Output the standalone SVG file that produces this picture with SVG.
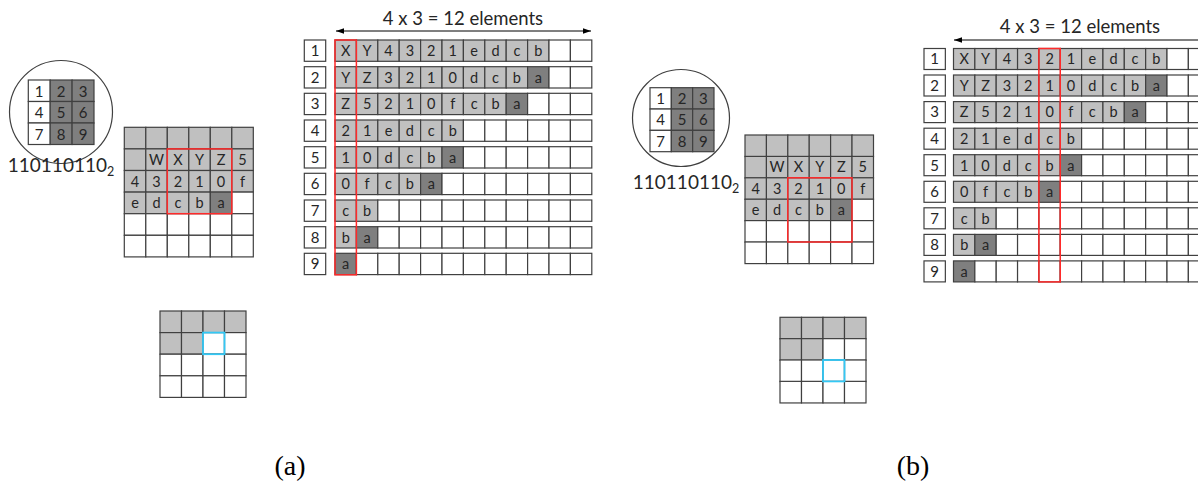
<svg xmlns="http://www.w3.org/2000/svg" xmlns:xlink="http://www.w3.org/1999/xlink" width="1198" height="485" viewBox="0 0 1198 485">
<style>
.w{fill:#fff;stroke:#404040;stroke-width:1.2}
.g{fill:#c0c0c0;stroke:#404040;stroke-width:1.2}
.d{fill:#7f7f7f;stroke:#404040;stroke-width:1.2}
.t{font-family:Lato,"Open Sans",sans-serif;font-size:14.5px;fill:#262626;text-anchor:middle}
.n{font-family:Lato,"Open Sans",sans-serif;font-size:15px;fill:#262626;text-anchor:middle}
.big{font-family:Lato,"Open Sans",sans-serif;font-size:18.5px;fill:#262626;text-anchor:middle}
.bin{font-family:Lato,"Open Sans",sans-serif;font-size:19px;fill:#262626;text-anchor:middle}
.cap{font-family:"Liberation Serif","Times New Roman",serif;font-size:28px;fill:#000;text-anchor:middle}
.red{fill:none;stroke:#ff2a2a;stroke-width:1.5}
.cy{fill:none;stroke:#33c8f5;stroke-width:1.8}
.circ{fill:#fff;stroke:#404040;stroke-width:1.2}
.ar{stroke:#000;stroke-width:1;fill:none}
</style>
<defs>
<rect id="ca" width="21.4" height="21.3"/>
<rect id="cb" width="21.35" height="21"/>
<rect id="cm" width="21.5" height="21.6"/>
<rect id="cs" width="21.5" height="21.6"/>
<rect id="cc" width="21.9" height="21.5"/>
<rect id="cd" width="21.33" height="21.33"/>
<marker id="ah" viewBox="0 0 10 10" refX="10" refY="5" markerWidth="8" markerHeight="8" orient="auto-start-reverse" markerUnits="userSpaceOnUse"><path d="M0,1.5 L10,5 L0,8.5 z" fill="#000"/></marker>
</defs>

<!-- ===== Panel (a) ===== -->
<g id="a-circle">
<circle class="circ" cx="61" cy="112" r="51.5"/>
<use href="#cc" x="28.3" y="80" class="w"/><use href="#cc" x="50.2" y="80" class="d"/><use href="#cc" x="72.1" y="80" class="d"/>
<use href="#cc" x="28.3" y="101.5" class="w"/><use href="#cc" x="50.2" y="101.5" class="d"/><use href="#cc" x="72.1" y="101.5" class="d"/>
<use href="#cc" x="28.3" y="123" class="w"/><use href="#cc" x="50.2" y="123" class="d"/><use href="#cc" x="72.1" y="123" class="d"/>
<text class="n" x="39.2" y="96.5">1</text><text class="n" x="61.1" y="96.5">2</text><text class="n" x="83" y="96.5">3</text>
<text class="n" x="39.2" y="118">4</text><text class="n" x="61.1" y="118">5</text><text class="n" x="83" y="118">6</text>
<text class="n" x="39.2" y="139.5">7</text><text class="n" x="61.1" y="139.5">8</text><text class="n" x="83" y="139.5">9</text>
</g>
<g id="a-binary"><text class="bin" x="61" y="172">110110110<tspan font-size="12.5" dy="4">2</tspan></text></g>

<g id="a-grid">
<use href="#cm" x="124.3" y="127.3" class="g"/><use href="#cm" x="145.8" y="127.3" class="g"/><use href="#cm" x="167.3" y="127.3" class="g"/><use href="#cm" x="188.8" y="127.3" class="g"/><use href="#cm" x="210.3" y="127.3" class="g"/><use href="#cm" x="231.8" y="127.3" class="g"/>
<use href="#cm" x="124.3" y="148.9" class="g"/><use href="#cm" x="145.8" y="148.9" class="g"/><use href="#cm" x="167.3" y="148.9" class="g"/><use href="#cm" x="188.8" y="148.9" class="g"/><use href="#cm" x="210.3" y="148.9" class="g"/><use href="#cm" x="231.8" y="148.9" class="g"/>
<use href="#cm" x="124.3" y="170.5" class="g"/><use href="#cm" x="145.8" y="170.5" class="g"/><use href="#cm" x="167.3" y="170.5" class="g"/><use href="#cm" x="188.8" y="170.5" class="g"/><use href="#cm" x="210.3" y="170.5" class="g"/><use href="#cm" x="231.8" y="170.5" class="g"/>
<use href="#cm" x="124.3" y="192.1" class="g"/><use href="#cm" x="145.8" y="192.1" class="g"/><use href="#cm" x="167.3" y="192.1" class="g"/><use href="#cm" x="188.8" y="192.1" class="g"/><use href="#cm" x="210.3" y="192.1" class="d"/><use href="#cm" x="231.8" y="192.1" class="w"/>
<use href="#cm" x="124.3" y="213.7" class="w"/><use href="#cm" x="145.8" y="213.7" class="w"/><use href="#cm" x="167.3" y="213.7" class="w"/><use href="#cm" x="188.8" y="213.7" class="w"/><use href="#cm" x="210.3" y="213.7" class="w"/><use href="#cm" x="231.8" y="213.7" class="w"/>
<use href="#cm" x="124.3" y="235.3" class="w"/><use href="#cm" x="145.8" y="235.3" class="w"/><use href="#cm" x="167.3" y="235.3" class="w"/><use href="#cm" x="188.8" y="235.3" class="w"/><use href="#cm" x="210.3" y="235.3" class="w"/><use href="#cm" x="231.8" y="235.3" class="w"/>
<text class="t" x="156.5" y="164.9">W</text><text class="t" x="178" y="164.9">X</text><text class="t" x="199.5" y="164.9">Y</text><text class="t" x="221" y="164.9">Z</text><text class="t" x="242.5" y="164.9">5</text>
<text class="t" x="135" y="186.5">4</text><text class="t" x="156.5" y="186.5">3</text><text class="t" x="178" y="186.5">2</text><text class="t" x="199.5" y="186.5">1</text><text class="t" x="221" y="186.5">0</text><text class="t" x="242.5" y="186.5">f</text>
<text class="t" x="135" y="208.1">e</text><text class="t" x="156.5" y="208.1">d</text><text class="t" x="178" y="208.1">c</text><text class="t" x="199.5" y="208.1">b</text><text class="t" x="221" y="208.1">a</text>
<rect class="red" x="167.3" y="148.9" width="64.5" height="64.8"/>
</g>

<g id="a-small">
<use href="#cs" x="160" y="311" class="g"/><use href="#cs" x="181.5" y="311" class="g"/><use href="#cs" x="203" y="311" class="g"/><use href="#cs" x="224.5" y="311" class="g"/>
<use href="#cs" x="160" y="332.6" class="g"/><use href="#cs" x="181.5" y="332.6" class="g"/><use href="#cs" x="203" y="332.6" class="w"/><use href="#cs" x="224.5" y="332.6" class="w"/>
<use href="#cs" x="160" y="354.2" class="w"/><use href="#cs" x="181.5" y="354.2" class="w"/><use href="#cs" x="203" y="354.2" class="w"/><use href="#cs" x="224.5" y="354.2" class="w"/>
<use href="#cs" x="160" y="375.8" class="w"/><use href="#cs" x="181.5" y="375.8" class="w"/><use href="#cs" x="203" y="375.8" class="w"/><use href="#cs" x="224.5" y="375.8" class="w"/>
<rect class="cy" x="203" y="332.6" width="21.5" height="21.6"/>
</g>

<g id="a-list">
<text class="big" x="463" y="25">4 x 3 = 12 elements</text>
<use href="#ca" x="304.3" y="40" class="w"/><use href="#ca" x="304.3" y="66.7" class="w"/><use href="#ca" x="304.3" y="93.3" class="w"/><use href="#ca" x="304.3" y="120" class="w"/><use href="#ca" x="304.3" y="146.7" class="w"/><use href="#ca" x="304.3" y="173.3" class="w"/><use href="#ca" x="304.3" y="200" class="w"/><use href="#ca" x="304.3" y="226.7" class="w"/><use href="#ca" x="304.3" y="253.3" class="w"/>
<text class="n" x="315" y="56">1</text><text class="n" x="315" y="82.7">2</text><text class="n" x="315" y="109.3">3</text><text class="n" x="315" y="136">4</text><text class="n" x="315" y="162.7">5</text><text class="n" x="315" y="189.3">6</text><text class="n" x="315" y="216">7</text><text class="n" x="315" y="242.7">8</text><text class="n" x="315" y="269.3">9</text>
<use href="#ca" x="335" y="40" class="g"/><use href="#ca" x="356.4" y="40" class="g"/><use href="#ca" x="377.8" y="40" class="g"/><use href="#ca" x="399.2" y="40" class="g"/><use href="#ca" x="420.6" y="40" class="g"/><use href="#ca" x="442" y="40" class="g"/><use href="#ca" x="463.4" y="40" class="g"/><use href="#ca" x="484.8" y="40" class="g"/><use href="#ca" x="506.2" y="40" class="g"/><use href="#ca" x="527.6" y="40" class="g"/><use href="#ca" x="549" y="40" class="w"/><use href="#ca" x="570.4" y="40" class="w"/>
<use href="#ca" x="335" y="66.7" class="g"/><use href="#ca" x="356.4" y="66.7" class="g"/><use href="#ca" x="377.8" y="66.7" class="g"/><use href="#ca" x="399.2" y="66.7" class="g"/><use href="#ca" x="420.6" y="66.7" class="g"/><use href="#ca" x="442" y="66.7" class="g"/><use href="#ca" x="463.4" y="66.7" class="g"/><use href="#ca" x="484.8" y="66.7" class="g"/><use href="#ca" x="506.2" y="66.7" class="g"/><use href="#ca" x="527.6" y="66.7" class="d"/><use href="#ca" x="549" y="66.7" class="w"/><use href="#ca" x="570.4" y="66.7" class="w"/>
<use href="#ca" x="335" y="93.3" class="g"/><use href="#ca" x="356.4" y="93.3" class="g"/><use href="#ca" x="377.8" y="93.3" class="g"/><use href="#ca" x="399.2" y="93.3" class="g"/><use href="#ca" x="420.6" y="93.3" class="g"/><use href="#ca" x="442" y="93.3" class="g"/><use href="#ca" x="463.4" y="93.3" class="g"/><use href="#ca" x="484.8" y="93.3" class="g"/><use href="#ca" x="506.2" y="93.3" class="d"/><use href="#ca" x="527.6" y="93.3" class="w"/><use href="#ca" x="549" y="93.3" class="w"/><use href="#ca" x="570.4" y="93.3" class="w"/>
<use href="#ca" x="335" y="120" class="g"/><use href="#ca" x="356.4" y="120" class="g"/><use href="#ca" x="377.8" y="120" class="g"/><use href="#ca" x="399.2" y="120" class="g"/><use href="#ca" x="420.6" y="120" class="g"/><use href="#ca" x="442" y="120" class="g"/><use href="#ca" x="463.4" y="120" class="w"/><use href="#ca" x="484.8" y="120" class="w"/><use href="#ca" x="506.2" y="120" class="w"/><use href="#ca" x="527.6" y="120" class="w"/><use href="#ca" x="549" y="120" class="w"/><use href="#ca" x="570.4" y="120" class="w"/>
<use href="#ca" x="335" y="146.7" class="g"/><use href="#ca" x="356.4" y="146.7" class="g"/><use href="#ca" x="377.8" y="146.7" class="g"/><use href="#ca" x="399.2" y="146.7" class="g"/><use href="#ca" x="420.6" y="146.7" class="g"/><use href="#ca" x="442" y="146.7" class="d"/><use href="#ca" x="463.4" y="146.7" class="w"/><use href="#ca" x="484.8" y="146.7" class="w"/><use href="#ca" x="506.2" y="146.7" class="w"/><use href="#ca" x="527.6" y="146.7" class="w"/><use href="#ca" x="549" y="146.7" class="w"/><use href="#ca" x="570.4" y="146.7" class="w"/>
<use href="#ca" x="335" y="173.3" class="g"/><use href="#ca" x="356.4" y="173.3" class="g"/><use href="#ca" x="377.8" y="173.3" class="g"/><use href="#ca" x="399.2" y="173.3" class="g"/><use href="#ca" x="420.6" y="173.3" class="d"/><use href="#ca" x="442" y="173.3" class="w"/><use href="#ca" x="463.4" y="173.3" class="w"/><use href="#ca" x="484.8" y="173.3" class="w"/><use href="#ca" x="506.2" y="173.3" class="w"/><use href="#ca" x="527.6" y="173.3" class="w"/><use href="#ca" x="549" y="173.3" class="w"/><use href="#ca" x="570.4" y="173.3" class="w"/>
<use href="#ca" x="335" y="200" class="g"/><use href="#ca" x="356.4" y="200" class="g"/><use href="#ca" x="377.8" y="200" class="w"/><use href="#ca" x="399.2" y="200" class="w"/><use href="#ca" x="420.6" y="200" class="w"/><use href="#ca" x="442" y="200" class="w"/><use href="#ca" x="463.4" y="200" class="w"/><use href="#ca" x="484.8" y="200" class="w"/><use href="#ca" x="506.2" y="200" class="w"/><use href="#ca" x="527.6" y="200" class="w"/><use href="#ca" x="549" y="200" class="w"/><use href="#ca" x="570.4" y="200" class="w"/>
<use href="#ca" x="335" y="226.7" class="g"/><use href="#ca" x="356.4" y="226.7" class="d"/><use href="#ca" x="377.8" y="226.7" class="w"/><use href="#ca" x="399.2" y="226.7" class="w"/><use href="#ca" x="420.6" y="226.7" class="w"/><use href="#ca" x="442" y="226.7" class="w"/><use href="#ca" x="463.4" y="226.7" class="w"/><use href="#ca" x="484.8" y="226.7" class="w"/><use href="#ca" x="506.2" y="226.7" class="w"/><use href="#ca" x="527.6" y="226.7" class="w"/><use href="#ca" x="549" y="226.7" class="w"/><use href="#ca" x="570.4" y="226.7" class="w"/>
<use href="#ca" x="335" y="253.3" class="d"/><use href="#ca" x="356.4" y="253.3" class="w"/><use href="#ca" x="377.8" y="253.3" class="w"/><use href="#ca" x="399.2" y="253.3" class="w"/><use href="#ca" x="420.6" y="253.3" class="w"/><use href="#ca" x="442" y="253.3" class="w"/><use href="#ca" x="463.4" y="253.3" class="w"/><use href="#ca" x="484.8" y="253.3" class="w"/><use href="#ca" x="506.2" y="253.3" class="w"/><use href="#ca" x="527.6" y="253.3" class="w"/><use href="#ca" x="549" y="253.3" class="w"/><use href="#ca" x="570.4" y="253.3" class="w"/>
<text class="t" x="345.7" y="56">X</text><text class="t" x="367.1" y="56">Y</text><text class="t" x="388.5" y="56">4</text><text class="t" x="409.9" y="56">3</text><text class="t" x="431.3" y="56">2</text><text class="t" x="452.7" y="56">1</text><text class="t" x="474.1" y="56">e</text><text class="t" x="495.5" y="56">d</text><text class="t" x="516.9" y="56">c</text><text class="t" x="538.3" y="56">b</text>
<text class="t" x="345.7" y="82.7">Y</text><text class="t" x="367.1" y="82.7">Z</text><text class="t" x="388.5" y="82.7">3</text><text class="t" x="409.9" y="82.7">2</text><text class="t" x="431.3" y="82.7">1</text><text class="t" x="452.7" y="82.7">0</text><text class="t" x="474.1" y="82.7">d</text><text class="t" x="495.5" y="82.7">c</text><text class="t" x="516.9" y="82.7">b</text><text class="t" x="538.3" y="82.7">a</text>
<text class="t" x="345.7" y="109.3">Z</text><text class="t" x="367.1" y="109.3">5</text><text class="t" x="388.5" y="109.3">2</text><text class="t" x="409.9" y="109.3">1</text><text class="t" x="431.3" y="109.3">0</text><text class="t" x="452.7" y="109.3">f</text><text class="t" x="474.1" y="109.3">c</text><text class="t" x="495.5" y="109.3">b</text><text class="t" x="516.9" y="109.3">a</text>
<text class="t" x="345.7" y="136">2</text><text class="t" x="367.1" y="136">1</text><text class="t" x="388.5" y="136">e</text><text class="t" x="409.9" y="136">d</text><text class="t" x="431.3" y="136">c</text><text class="t" x="452.7" y="136">b</text>
<text class="t" x="345.7" y="162.7">1</text><text class="t" x="367.1" y="162.7">0</text><text class="t" x="388.5" y="162.7">d</text><text class="t" x="409.9" y="162.7">c</text><text class="t" x="431.3" y="162.7">b</text><text class="t" x="452.7" y="162.7">a</text>
<text class="t" x="345.7" y="189.3">0</text><text class="t" x="367.1" y="189.3">f</text><text class="t" x="388.5" y="189.3">c</text><text class="t" x="409.9" y="189.3">b</text><text class="t" x="431.3" y="189.3">a</text>
<text class="t" x="345.7" y="216">c</text><text class="t" x="367.1" y="216">b</text>
<text class="t" x="345.7" y="242.7">b</text><text class="t" x="367.1" y="242.7">a</text>
<text class="t" x="345.7" y="269.3">a</text>
<rect class="red" x="335" y="40" width="21.4" height="234.8"/>
</g>

<!-- ===== Panel (b) ===== -->
<g id="b-circle">
<circle class="circ" cx="681" cy="118" r="48.5"/>
<use href="#cd" x="650" y="87.7" class="w"/><use href="#cd" x="671.33" y="87.7" class="d"/><use href="#cd" x="692.66" y="87.7" class="d"/>
<use href="#cd" x="650" y="109.03" class="w"/><use href="#cd" x="671.33" y="109.03" class="d"/><use href="#cd" x="692.66" y="109.03" class="d"/>
<use href="#cd" x="650" y="130.36" class="w"/><use href="#cd" x="671.33" y="130.36" class="d"/><use href="#cd" x="692.66" y="130.36" class="d"/>
<text class="n" x="660.7" y="104">1</text><text class="n" x="682" y="104">2</text><text class="n" x="703.3" y="104">3</text>
<text class="n" x="660.7" y="125.4">4</text><text class="n" x="682" y="125.4">5</text><text class="n" x="703.3" y="125.4">6</text>
<text class="n" x="660.7" y="146.7">7</text><text class="n" x="682" y="146.7">8</text><text class="n" x="703.3" y="146.7">9</text>
</g>
<g id="b-binary"><text class="bin" x="686" y="189">110110110<tspan font-size="12.5" dy="4">2</tspan></text></g>

<g id="b-grid">
<use href="#cm" x="745" y="135" class="g"/><use href="#cm" x="766.4" y="135" class="g"/><use href="#cm" x="787.8" y="135" class="g"/><use href="#cm" x="809.2" y="135" class="g"/><use href="#cm" x="830.6" y="135" class="g"/><use href="#cm" x="852" y="135" class="g"/>
<use href="#cm" x="745" y="156.4" class="g"/><use href="#cm" x="766.4" y="156.4" class="g"/><use href="#cm" x="787.8" y="156.4" class="g"/><use href="#cm" x="809.2" y="156.4" class="g"/><use href="#cm" x="830.6" y="156.4" class="g"/><use href="#cm" x="852" y="156.4" class="g"/>
<use href="#cm" x="745" y="177.8" class="g"/><use href="#cm" x="766.4" y="177.8" class="g"/><use href="#cm" x="787.8" y="177.8" class="g"/><use href="#cm" x="809.2" y="177.8" class="g"/><use href="#cm" x="830.6" y="177.8" class="g"/><use href="#cm" x="852" y="177.8" class="g"/>
<use href="#cm" x="745" y="199.2" class="g"/><use href="#cm" x="766.4" y="199.2" class="g"/><use href="#cm" x="787.8" y="199.2" class="g"/><use href="#cm" x="809.2" y="199.2" class="g"/><use href="#cm" x="830.6" y="199.2" class="d"/><use href="#cm" x="852" y="199.2" class="w"/>
<use href="#cm" x="745" y="220.6" class="w"/><use href="#cm" x="766.4" y="220.6" class="w"/><use href="#cm" x="787.8" y="220.6" class="w"/><use href="#cm" x="809.2" y="220.6" class="w"/><use href="#cm" x="830.6" y="220.6" class="w"/><use href="#cm" x="852" y="220.6" class="w"/>
<use href="#cm" x="745" y="242" class="w"/><use href="#cm" x="766.4" y="242" class="w"/><use href="#cm" x="787.8" y="242" class="w"/><use href="#cm" x="809.2" y="242" class="w"/><use href="#cm" x="830.6" y="242" class="w"/><use href="#cm" x="852" y="242" class="w"/>
<text class="t" x="777.1" y="172.4">W</text><text class="t" x="798.5" y="172.4">X</text><text class="t" x="819.9" y="172.4">Y</text><text class="t" x="841.3" y="172.4">Z</text><text class="t" x="862.7" y="172.4">5</text>
<text class="t" x="755.7" y="193.8">4</text><text class="t" x="777.1" y="193.8">3</text><text class="t" x="798.5" y="193.8">2</text><text class="t" x="819.9" y="193.8">1</text><text class="t" x="841.3" y="193.8">0</text><text class="t" x="862.7" y="193.8">f</text>
<text class="t" x="755.7" y="215.2">e</text><text class="t" x="777.1" y="215.2">d</text><text class="t" x="798.5" y="215.2">c</text><text class="t" x="819.9" y="215.2">b</text><text class="t" x="841.3" y="215.2">a</text>
<rect class="red" x="787.8" y="177.8" width="64.2" height="64.2"/>
</g>

<g id="b-small">
<use href="#cs" x="780" y="317.3" class="g"/><use href="#cs" x="801.5" y="317.3" class="g"/><use href="#cs" x="823" y="317.3" class="g"/><use href="#cs" x="844.5" y="317.3" class="g"/>
<use href="#cs" x="780" y="338.65" class="g"/><use href="#cs" x="801.5" y="338.65" class="g"/><use href="#cs" x="823" y="338.65" class="w"/><use href="#cs" x="844.5" y="338.65" class="w"/>
<use href="#cs" x="780" y="360" class="w"/><use href="#cs" x="801.5" y="360" class="w"/><use href="#cs" x="823" y="360" class="w"/><use href="#cs" x="844.5" y="360" class="w"/>
<use href="#cs" x="780" y="381.35" class="w"/><use href="#cs" x="801.5" y="381.35" class="w"/><use href="#cs" x="823" y="381.35" class="w"/><use href="#cs" x="844.5" y="381.35" class="w"/>
<rect class="cy" x="823" y="360" width="21.5" height="21.4"/>
</g>

<g id="b-list">
<text class="big" x="1080" y="33">4 x 3 = 12 elements</text>
<use href="#cb" x="924" y="48.5" class="w"/><use href="#cb" x="924" y="75" class="w"/><use href="#cb" x="924" y="101.6" class="w"/><use href="#cb" x="924" y="128.2" class="w"/><use href="#cb" x="924" y="154.7" class="w"/><use href="#cb" x="924" y="181.3" class="w"/><use href="#cb" x="924" y="207.8" class="w"/><use href="#cb" x="924" y="234.4" class="w"/><use href="#cb" x="924" y="260.9" class="w"/>
<text class="n" x="934.7" y="64.3">1</text><text class="n" x="934.7" y="90.8">2</text><text class="n" x="934.7" y="117.4">3</text><text class="n" x="934.7" y="144">4</text><text class="n" x="934.7" y="170.5">5</text><text class="n" x="934.7" y="197.1">6</text><text class="n" x="934.7" y="223.6">7</text><text class="n" x="934.7" y="250.2">8</text><text class="n" x="934.7" y="276.7">9</text>
<use href="#cb" x="953.5" y="48.5" class="g"/><use href="#cb" x="974.85" y="48.5" class="g"/><use href="#cb" x="996.2" y="48.5" class="g"/><use href="#cb" x="1017.55" y="48.5" class="g"/><use href="#cb" x="1038.9" y="48.5" class="g"/><use href="#cb" x="1060.25" y="48.5" class="g"/><use href="#cb" x="1081.6" y="48.5" class="g"/><use href="#cb" x="1102.95" y="48.5" class="g"/><use href="#cb" x="1124.3" y="48.5" class="g"/><use href="#cb" x="1145.65" y="48.5" class="g"/><use href="#cb" x="1167" y="48.5" class="w"/><use href="#cb" x="1188.35" y="48.5" class="w"/>
<use href="#cb" x="953.5" y="75" class="g"/><use href="#cb" x="974.85" y="75" class="g"/><use href="#cb" x="996.2" y="75" class="g"/><use href="#cb" x="1017.55" y="75" class="g"/><use href="#cb" x="1038.9" y="75" class="g"/><use href="#cb" x="1060.25" y="75" class="g"/><use href="#cb" x="1081.6" y="75" class="g"/><use href="#cb" x="1102.95" y="75" class="g"/><use href="#cb" x="1124.3" y="75" class="g"/><use href="#cb" x="1145.65" y="75" class="d"/><use href="#cb" x="1167" y="75" class="w"/><use href="#cb" x="1188.35" y="75" class="w"/>
<use href="#cb" x="953.5" y="101.6" class="g"/><use href="#cb" x="974.85" y="101.6" class="g"/><use href="#cb" x="996.2" y="101.6" class="g"/><use href="#cb" x="1017.55" y="101.6" class="g"/><use href="#cb" x="1038.9" y="101.6" class="g"/><use href="#cb" x="1060.25" y="101.6" class="g"/><use href="#cb" x="1081.6" y="101.6" class="g"/><use href="#cb" x="1102.95" y="101.6" class="g"/><use href="#cb" x="1124.3" y="101.6" class="d"/><use href="#cb" x="1145.65" y="101.6" class="w"/><use href="#cb" x="1167" y="101.6" class="w"/><use href="#cb" x="1188.35" y="101.6" class="w"/>
<use href="#cb" x="953.5" y="128.2" class="g"/><use href="#cb" x="974.85" y="128.2" class="g"/><use href="#cb" x="996.2" y="128.2" class="g"/><use href="#cb" x="1017.55" y="128.2" class="g"/><use href="#cb" x="1038.9" y="128.2" class="g"/><use href="#cb" x="1060.25" y="128.2" class="g"/><use href="#cb" x="1081.6" y="128.2" class="w"/><use href="#cb" x="1102.95" y="128.2" class="w"/><use href="#cb" x="1124.3" y="128.2" class="w"/><use href="#cb" x="1145.65" y="128.2" class="w"/><use href="#cb" x="1167" y="128.2" class="w"/><use href="#cb" x="1188.35" y="128.2" class="w"/>
<use href="#cb" x="953.5" y="154.7" class="g"/><use href="#cb" x="974.85" y="154.7" class="g"/><use href="#cb" x="996.2" y="154.7" class="g"/><use href="#cb" x="1017.55" y="154.7" class="g"/><use href="#cb" x="1038.9" y="154.7" class="g"/><use href="#cb" x="1060.25" y="154.7" class="d"/><use href="#cb" x="1081.6" y="154.7" class="w"/><use href="#cb" x="1102.95" y="154.7" class="w"/><use href="#cb" x="1124.3" y="154.7" class="w"/><use href="#cb" x="1145.65" y="154.7" class="w"/><use href="#cb" x="1167" y="154.7" class="w"/><use href="#cb" x="1188.35" y="154.7" class="w"/>
<use href="#cb" x="953.5" y="181.3" class="g"/><use href="#cb" x="974.85" y="181.3" class="g"/><use href="#cb" x="996.2" y="181.3" class="g"/><use href="#cb" x="1017.55" y="181.3" class="g"/><use href="#cb" x="1038.9" y="181.3" class="d"/><use href="#cb" x="1060.25" y="181.3" class="w"/><use href="#cb" x="1081.6" y="181.3" class="w"/><use href="#cb" x="1102.95" y="181.3" class="w"/><use href="#cb" x="1124.3" y="181.3" class="w"/><use href="#cb" x="1145.65" y="181.3" class="w"/><use href="#cb" x="1167" y="181.3" class="w"/><use href="#cb" x="1188.35" y="181.3" class="w"/>
<use href="#cb" x="953.5" y="207.8" class="g"/><use href="#cb" x="974.85" y="207.8" class="g"/><use href="#cb" x="996.2" y="207.8" class="w"/><use href="#cb" x="1017.55" y="207.8" class="w"/><use href="#cb" x="1038.9" y="207.8" class="w"/><use href="#cb" x="1060.25" y="207.8" class="w"/><use href="#cb" x="1081.6" y="207.8" class="w"/><use href="#cb" x="1102.95" y="207.8" class="w"/><use href="#cb" x="1124.3" y="207.8" class="w"/><use href="#cb" x="1145.65" y="207.8" class="w"/><use href="#cb" x="1167" y="207.8" class="w"/><use href="#cb" x="1188.35" y="207.8" class="w"/>
<use href="#cb" x="953.5" y="234.4" class="g"/><use href="#cb" x="974.85" y="234.4" class="d"/><use href="#cb" x="996.2" y="234.4" class="w"/><use href="#cb" x="1017.55" y="234.4" class="w"/><use href="#cb" x="1038.9" y="234.4" class="w"/><use href="#cb" x="1060.25" y="234.4" class="w"/><use href="#cb" x="1081.6" y="234.4" class="w"/><use href="#cb" x="1102.95" y="234.4" class="w"/><use href="#cb" x="1124.3" y="234.4" class="w"/><use href="#cb" x="1145.65" y="234.4" class="w"/><use href="#cb" x="1167" y="234.4" class="w"/><use href="#cb" x="1188.35" y="234.4" class="w"/>
<use href="#cb" x="953.5" y="260.9" class="d"/><use href="#cb" x="974.85" y="260.9" class="w"/><use href="#cb" x="996.2" y="260.9" class="w"/><use href="#cb" x="1017.55" y="260.9" class="w"/><use href="#cb" x="1038.9" y="260.9" class="w"/><use href="#cb" x="1060.25" y="260.9" class="w"/><use href="#cb" x="1081.6" y="260.9" class="w"/><use href="#cb" x="1102.95" y="260.9" class="w"/><use href="#cb" x="1124.3" y="260.9" class="w"/><use href="#cb" x="1145.65" y="260.9" class="w"/><use href="#cb" x="1167" y="260.9" class="w"/><use href="#cb" x="1188.35" y="260.9" class="w"/>
<text class="t" x="964.2" y="64.3">X</text><text class="t" x="985.5" y="64.3">Y</text><text class="t" x="1006.9" y="64.3">4</text><text class="t" x="1028.2" y="64.3">3</text><text class="t" x="1049.6" y="64.3">2</text><text class="t" x="1070.9" y="64.3">1</text><text class="t" x="1092.3" y="64.3">e</text><text class="t" x="1113.6" y="64.3">d</text><text class="t" x="1135" y="64.3">c</text><text class="t" x="1156.3" y="64.3">b</text>
<text class="t" x="964.2" y="90.8">Y</text><text class="t" x="985.5" y="90.8">Z</text><text class="t" x="1006.9" y="90.8">3</text><text class="t" x="1028.2" y="90.8">2</text><text class="t" x="1049.6" y="90.8">1</text><text class="t" x="1070.9" y="90.8">0</text><text class="t" x="1092.3" y="90.8">d</text><text class="t" x="1113.6" y="90.8">c</text><text class="t" x="1135" y="90.8">b</text><text class="t" x="1156.3" y="90.8">a</text>
<text class="t" x="964.2" y="117.4">Z</text><text class="t" x="985.5" y="117.4">5</text><text class="t" x="1006.9" y="117.4">2</text><text class="t" x="1028.2" y="117.4">1</text><text class="t" x="1049.6" y="117.4">0</text><text class="t" x="1070.9" y="117.4">f</text><text class="t" x="1092.3" y="117.4">c</text><text class="t" x="1113.6" y="117.4">b</text><text class="t" x="1135" y="117.4">a</text>
<text class="t" x="964.2" y="144">2</text><text class="t" x="985.5" y="144">1</text><text class="t" x="1006.9" y="144">e</text><text class="t" x="1028.2" y="144">d</text><text class="t" x="1049.6" y="144">c</text><text class="t" x="1070.9" y="144">b</text>
<text class="t" x="964.2" y="170.5">1</text><text class="t" x="985.5" y="170.5">0</text><text class="t" x="1006.9" y="170.5">d</text><text class="t" x="1028.2" y="170.5">c</text><text class="t" x="1049.6" y="170.5">b</text><text class="t" x="1070.9" y="170.5">a</text>
<text class="t" x="964.2" y="197.1">0</text><text class="t" x="985.5" y="197.1">f</text><text class="t" x="1006.9" y="197.1">c</text><text class="t" x="1028.2" y="197.1">b</text><text class="t" x="1049.6" y="197.1">a</text>
<text class="t" x="964.2" y="223.6">c</text><text class="t" x="985.5" y="223.6">b</text>
<text class="t" x="964.2" y="250.2">b</text><text class="t" x="985.5" y="250.2">a</text>
<text class="t" x="964.2" y="276.7">a</text>
<rect class="red" x="1038.9" y="48.5" width="21.35" height="233.4"/>
</g>

<g id="connectors">
<line class="ar" x1="336" y1="31" x2="591" y2="31" marker-start="url(#ah)" marker-end="url(#ah)"/>
<line class="ar" x1="954" y1="40" x2="1198" y2="40" marker-start="url(#ah)"/>
</g>

<g id="captions">
<text class="cap" x="290" y="475">(a)</text>
<text class="cap" x="913" y="475">(b)</text>
</g>
</svg>
